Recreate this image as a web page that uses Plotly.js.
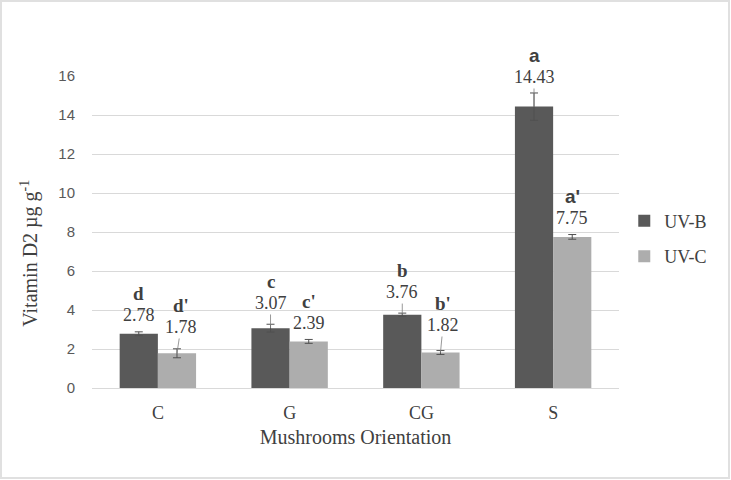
<!DOCTYPE html>
<html>
<head>
<meta charset="utf-8">
<script src="https://cdn.plot.ly/plotly-3.0.1.min.js"></script>
<style>
  html, body { margin: 0; padding: 0; background: #fff; }
  #wrap { position: relative; width: 731px; height: 480px; }
  #chart { position: absolute; left: 0; top: 0; width: 731px; height: 480px; }
  #frame { position: absolute; left: 0px; top: 0px; width: 726px; height: 475px; border: 2px solid #e0e0e0; pointer-events: none; }
</style>
</head>
<body>
<div id="wrap"><div id="chart"></div><div id="frame"></div></div>
<script>
// ---- data ----
const categories = ["C", "G", "CG", "S"];
const seriesNames = ["UV-B", "UV-C"];
const uvbValues = [2.78, 3.07, 3.76, 14.43];
const uvcValues = [1.78, 2.39, 1.82, 7.75];
const uvbErrors = [0.1, 0.2, 0.08, 0.7];
const uvcErrors = [0.23, 0.1, 0.1, 0.12];
const uvbLetters = ["d", "c", "b", "a"];
const uvcLetters = ["d'", "c'", "b'", "a'"];
const yTickVals = [0, 2, 4, 6, 8, 10, 12, 14, 16];
const yMax = 16;

// ---- label placement (layout only) ----
const barHalf = 0.145;
const uvbLabelOffset = [0.96, 1.29, 1.16, 1.52];
const uvcLabelOffset = [1.35, 0.94, 1.41, 0.95];
const uvbLeader = [false, true, true, true];
const uvcLeader = [true, false, true, false];
const letterGap = 1.12;
const uvcLabelDx = [0.03, 0, 0.02, 0];

const serif = "Liberation Serif, Times New Roman, serif";
const sans = "Liberation Sans, Arial, sans-serif";
const txt = "#404040";

const traces = [
  { type: "bar", name: seriesNames[0], x: categories, y: uvbValues,
    marker: { color: "#595959" },
    error_y: { type: "data", array: uvbErrors, visible: true, color: "#505050", thickness: 1, width: 4 },
    legendgroup: "a" },
  { type: "bar", name: seriesNames[1], x: categories, y: uvcValues,
    marker: { color: "#adadad" },
    error_y: { type: "data", array: uvcErrors, visible: true, color: "#505050", thickness: 1, width: 4 },
    legendgroup: "b" }
];

const annotations = [];
function addLabels(values, offs, leaders, letters, shift, dxs, letterFontFn) {
  values.forEach((v, i) => {
    const xc = i + shift;
    const ly = v + offs[i];
    const dx = dxs ? dxs[i] : 0;
    if (leaders[i]) {
      annotations.push({
        x: xc, y: v, xref: "x", yref: "y",
        ax: xc + dx, ay: ly, axref: "x", ayref: "y",
        text: v.toFixed(2), showarrow: true, arrowhead: 0, arrowwidth: 0.8,
        arrowcolor: "#7f7f7f", standoff: 0, startstandoff: 0,
        font: { family: serif, size: 18, color: txt }
      });
    } else {
      annotations.push({
        x: xc + dx, y: ly / yMax, xref: "x", yref: "paper", showarrow: false,
        xanchor: "center", yanchor: "middle",
        text: v.toFixed(2), font: { family: serif, size: 18, color: txt }
      });
    }
    annotations.push({
      x: xc + dx, y: (ly + letterGap) / yMax, xref: "x", yref: "paper", showarrow: false,
      xanchor: "center", yanchor: "middle",
      text: "<b>" + letters[i] + "</b>",
      font: letterFontFn(i)
    });
  });
}
addLabels(uvbValues, uvbLabelOffset, uvbLeader, uvbLetters, -barHalf, null,
  i => ({ family: i === 3 ? sans : serif, size: 19, color: txt }));
addLabels(uvcValues, uvcLabelOffset, uvcLeader, uvcLetters, barHalf, uvcLabelDx,
  i => ({ family: i === 3 ? sans : serif, size: 19, color: txt }));

// y-axis title drawn as rotated annotation (sits below the plot centre, as in the reference)
annotations.push({
  xref: "paper", yref: "paper", x: -0.118, y: 0.433, xanchor: "center", yanchor: "middle",
  textangle: -90, showarrow: false,
  text: "Vitamin D2 µg g<sup>-1</sup>",
  font: { family: serif, size: 20, color: txt }
});

const layout = {
  width: 731, height: 480,
  margin: { l: 92, r: 112, t: 76, b: 92 },
  paper_bgcolor: "#ffffff", plot_bgcolor: "#ffffff",
  barmode: "group", bargap: 0.42, bargroupgap: 0,
  showlegend: true,
  legend: { x: 1.01, xanchor: "left", y: 0.479, yanchor: "middle",
    font: { family: serif, size: 18, color: txt },
    traceorder: "grouped", tracegroupgap: 9, itemwidth: 30 },
  xaxis: {
    type: "category", showgrid: false, showline: true, linecolor: "#d9d9d9", linewidth: 1,
    ticks: "", tickfont: { family: serif, size: 18, color: txt },
    ticklabelstandoff: 8,
    title: { text: "Mushrooms Orientation", font: { family: serif, size: 20, color: txt }, standoff: 8 }
  },
  yaxis: {
    range: [0, yMax], tickvals: yTickVals, showgrid: true, gridcolor: "#d9d9d9", gridwidth: 1,
    zeroline: false, showline: false, ticks: "", ticklabelstandoff: 16,
    tickfont: { family: sans, size: 15, color: "#595959" }
  },
  annotations: annotations
};

Plotly.newPlot("chart", traces, layout, { displayModeBar: false, staticPlot: true });
</script>
</body>
</html>
